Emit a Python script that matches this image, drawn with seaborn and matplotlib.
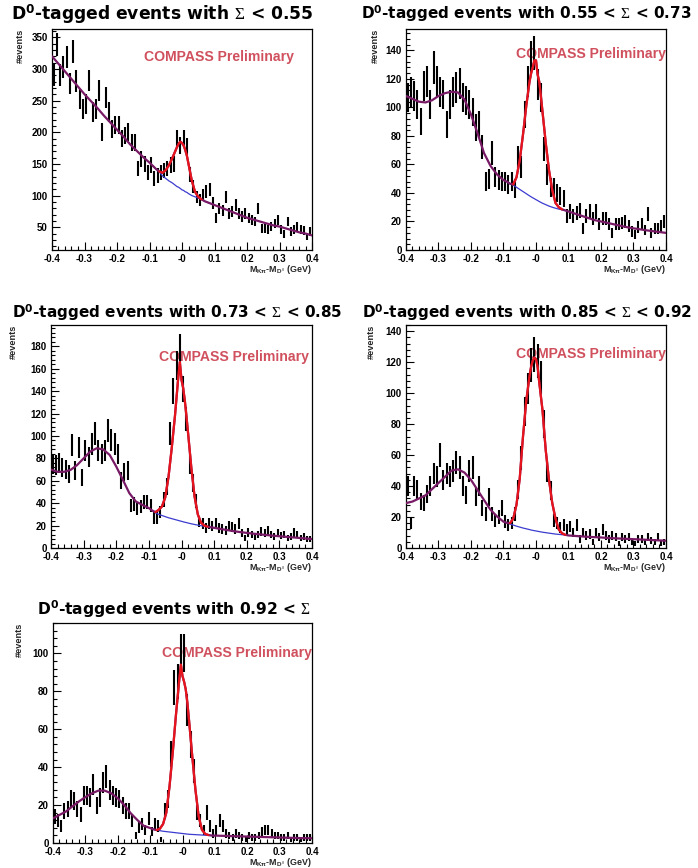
import numpy as np
import matplotlib
matplotlib.use("Agg")
import matplotlib.pyplot as plt
import seaborn as sns
from matplotlib.ticker import FixedLocator, MultipleLocator

# --------------------------------------------------------------
# data (80 bins of 0.01 GeV)
# --------------------------------------------------------------
BIN_X = np.round(np.arange(80) * 0.01 - 0.395, 3)

counts_1 = [290, 338, 290, 303, 319, 277, 327, 281, 253, 237,
            245, 282, 232, 237, 266, 200, 255, 232, 205, 211,
            211, 190, 195, 200, 184, 184, 142, 158, 150, 137,
            148, 127, 132, 137, 140, 142, 148, 150, 190, 179,
            190, 177, 133, 114, 98, 93, 101, 106, 109, 88,
            64, 80, 77, 98, 72, 75, 85, 72, 67, 72,
            64, 61, 59, 80, 48, 48, 46, 51, 56, 61,
            46, 40, 59, 43, 46, 51, 46, 45, 35, 43]

counts_2 = [107, 111, 108, 102, 90, 115, 118, 102, 128, 118,
            111, 109, 88, 102, 111, 114, 117, 107, 105, 102,
            97, 86, 88, 72, 48, 50, 68, 51, 49, 48,
            48, 46, 48, 43, 65, 58, 95, 118, 135, 138,
            116, 107, 71, 53, 44, 44, 40, 38, 36, 24,
            27, 24, 26, 28, 15, 24, 27, 22, 27, 18,
            22, 22, 18, 12, 18, 18, 19, 20, 17, 13,
            11, 16, 18, 14, 25, 12, 15, 15, 17, 20]

counts_3 = [75, 74, 76, 72, 70, 66, 92, 69, 90, 63,
            87, 81, 93, 102, 87, 84, 87, 105, 96, 93,
            84, 60, 68, 69, 38, 39, 35, 37, 41, 41,
            38, 27, 27, 32, 43, 55, 102, 140, 163, 178,
            142, 115, 75, 58, 42, 24, 22, 18, 22, 20,
            22, 18, 17, 16, 20, 19, 17, 22, 13, 9,
            14, 12, 10, 12, 15, 13, 16, 12, 10, 13,
            11, 12, 9, 10, 14, 12, 9, 10, 8, 8]

counts_4 = [40, 16, 40, 38, 30, 29, 35, 40, 48, 46,
            60, 44, 48, 46, 50, 55, 52, 40, 34, 50,
            52, 33, 40, 26, 22, 33, 22, 18, 20, 26,
            17, 15, 16, 22, 38, 58, 88, 103, 118, 125,
            121, 110, 80, 50, 37, 18, 16, 13, 15, 12,
            14, 10, 15, 6, 10, 8, 9, 4, 10, 7,
            12, 8, 6, 8, 7, 3, 7, 6, 7, 4,
            3, 6, 6, 4, 7, 5, 4, 7, 3, 4]

counts_5 = [14, 12, 9, 17, 18, 23, 22, 18, 15, 25,
            25, 24, 31, 20, 24, 32, 35, 28, 25, 24,
            23, 20, 17, 17, 12, 4, 8, 10, 7, 13,
            6, 10, 9, 2, 17, 23, 47, 82, 85, 100,
            100, 70, 52, 38, 16, 12, 7, 16, 9, 5,
            7, 12, 9, 5, 4, 3, 5, 4, 3, 2,
            4, 3, 3, 4, 6, 7, 7, 5, 4, 4,
            3, 3, 4, 2, 3, 3, 2, 3, 3, 3]

# fit curves, sampled at CURVE_X
CURVE_X = [-0.40, -0.38, -0.36, -0.34, -0.32, -0.30, -0.28, -0.26,
           -0.24, -0.22, -0.20, -0.18, -0.16, -0.14, -0.12, -0.10,
           -0.09, -0.08, -0.07, -0.06, -0.05, -0.04, -0.03, -0.02,
           -0.015, -0.01, -0.005, 0.0, 0.005, 0.01, 0.015, 0.02,
           0.03, 0.04, 0.05, 0.06, 0.07, 0.08, 0.09, 0.10,
           0.12, 0.14, 0.16, 0.18, 0.20, 0.22, 0.24, 0.26,
           0.28, 0.30, 0.32, 0.34, 0.36, 0.38, 0.40]
PEAK_LO, PEAK_HI = 16, 40  # background below is given on CURVE_X[16:40]

total_1 = [320, 308, 296, 284, 272, 260, 249, 238, 226, 215, 204, 193, 181, 171, 161, 152,
           147, 142, 138, 136, 140, 148, 159, 171, 177, 182, 185, 183, 179, 172, 163, 150,
           124, 106, 98, 94, 91, 89, 87, 85,
           81, 77, 73, 69, 65, 62, 59, 56, 53, 51, 48, 45, 42, 40, 37]
bkg_1 = [147, 142, 137.5, 131, 127, 123, 120, 116, 114, 113, 111, 109, 108, 106, 105, 103,
         100, 98, 96, 94, 91, 89, 87, 85]

total_2 = [108, 106, 104, 103.5, 105, 108, 110, 111, 110.5, 105.5, 95, 82, 68, 59, 53, 49,
           48, 46.5, 46, 51, 63, 81, 101, 118, 124, 128, 133, 133, 123, 118, 108, 97,
           75, 56, 42, 33, 30, 28.5, 27.8, 27,
           25.5, 24, 22.5, 21, 20, 19, 18, 17, 16, 15.2, 14.5, 13.8, 13.2, 12.6, 12]
bkg_2 = [48, 46.5, 45.5, 44, 42.5, 41, 39.5, 38, 37.3, 36.6, 36, 35.3, 34.7, 34, 33.4, 32.8,
         31.8, 30.8, 30, 29.3, 28.7, 28.2, 27.6, 27]

total_3 = [70, 68, 68, 69.7, 74, 80, 86, 89, 88, 83, 72.7, 61, 49, 41.5, 38.5, 35.6,
           33.5, 32, 34, 37, 45, 63, 89, 118, 135, 152, 166, 150, 143, 132, 118, 103,
           72, 46, 30, 22.5, 20, 19, 18.5, 18,
           17, 16, 15, 14.2, 13.5, 12.8, 12.2, 11.6, 11, 10.5, 10, 9.5, 9, 8.5, 8]
bkg_3 = [33.5, 31.5, 30, 29, 28, 27, 26.2, 25.4, 25, 24.6, 24.2, 23.8, 23.4, 23, 22.7, 22.3,
         21.6, 21, 20.4, 19.9, 19.4, 19, 18.5, 18]

total_4 = [29, 30, 32, 34, 38, 42, 46, 50, 50.8, 48.7, 44, 37.5, 31, 24.7, 20.4, 17,
           16.3, 16, 19, 28, 45, 72, 95, 111, 117, 121, 123, 122, 117, 107, 98, 89,
           63, 44, 29, 19, 12, 9.5, 8.5, 8.1,
           7.8, 7.5, 7.2, 7, 6.8, 6.5, 6.3, 6.1, 5.9, 5.7, 5.5, 5.3, 5.1, 4.9, 4.7]
bkg_4 = [16.3, 15.5, 14.8, 14.1, 13.5, 12.9, 12.4, 11.9, 11.6, 11.4, 11.2, 11.0, 10.8, 10.6, 10.4, 10.2,
         9.9, 9.6, 9.3, 9.0, 8.8, 8.6, 8.4, 8.1]

total_5 = [13, 14.8, 16.6, 19.3, 21.9, 24.2, 26.2, 27.6, 27.6, 26.2, 23.6, 20, 15.7, 12.2, 9.1, 7.9,
           7.2, 6.8, 7.5, 10, 16, 30, 48, 68, 77, 86, 94, 88, 85, 81, 74, 65,
           46, 28, 14, 7, 4.8, 4.2, 3.95, 3.9,
           3.8, 3.7, 3.6, 3.5, 3.4, 3.3, 3.2, 3.1, 3.0, 2.9, 2.8, 2.7, 2.6, 2.55, 2.5]
bkg_5 = [7.2, 6.8, 6.5, 6.2, 6.0, 5.8, 5.6, 5.4, 5.3, 5.2, 5.1, 5.0, 4.9, 4.8, 4.7, 4.6,
         4.5, 4.4, 4.3, 4.2, 4.1, 4.0, 3.95, 3.9]

TITLES = [r"D$^{\mathbf{0}}$-tagged events with $\Sigma$ < 0.55",
          r"D$^{\mathbf{0}}$-tagged events with 0.55 < $\Sigma$ < 0.73",
          r"D$^{\mathbf{0}}$-tagged events with 0.73 < $\Sigma$ < 0.85",
          r"D$^{\mathbf{0}}$-tagged events with 0.85 < $\Sigma$ < 0.92",
          r"D$^{\mathbf{0}}$-tagged events with 0.92 < $\Sigma$"]
XTICKS = [-0.4, -0.3, -0.2, -0.1, 0.0, 0.1, 0.2, 0.3, 0.4]
XTICK_LABELS = ["-0.4", "-0.3", "-0.2", "-0.1", "-0", "0.1", "0.2", "0.3", "0.4"]
YTICKS = [[50, 100, 150, 200, 250, 300, 350],
          [0, 20, 40, 60, 80, 100, 120, 140],
          [0, 20, 40, 60, 80, 100, 120, 140, 160, 180],
          [0, 20, 40, 60, 80, 100, 120, 140],
          [0, 20, 40, 60, 80, 100]]
YLIMS = [(14, 363), (0, 155), (0, 199), (0, 144), (0, 116)]

COUNTS = [counts_1, counts_2, counts_3, counts_4, counts_5]
TOTALS = [total_1, total_2, total_3, total_4, total_5]
BKGS = [bkg_1, bkg_2, bkg_3, bkg_4, bkg_5]

# layout in pixels: axes box (left, top, right, bottom), title (x, baseline, size),
# ylabel x, COMPASS label (x, baseline), minor y step
LAYOUT = [
    dict(box=(52, 29, 312, 250), title=(11, 20, 12.3), ylab=20.5, tag=(144, 61), minor=10),
    dict(box=(406, 29, 666, 250), title=(361, 19.5, 11.0), ylab=375, tag=(516, 58), minor=4),
    dict(box=(51, 325, 312, 548), title=(12, 318, 11.0), ylab=13.5, tag=(159, 361.5), minor=4),
    dict(box=(406, 325, 666, 548), title=(362, 318, 11.0), ylab=371.5, tag=(516, 358), minor=4),
    dict(box=(53, 623, 312, 843), title=(37, 615, 11.2), ylab=19.5, tag=(162, 656.5), minor=4),
]

RED = "#e8141c"
PURPLE = "#781a66"
BLUE = "#3c3cd0"
TAG = "#d0505e"

sns.set_theme(style="ticks")
plt.rcParams["font.family"] = ["Liberation Sans", "DejaVu Sans"]
plt.rcParams["mathtext.fontset"] = "custom"
plt.rcParams["mathtext.rm"] = "Liberation Serif"
plt.rcParams["mathtext.it"] = "Liberation Sans:bold"
plt.rcParams["mathtext.bf"] = "DejaVu Sans:bold"

W, H = 698, 868
fig = plt.figure(figsize=(W / 100, H / 100), dpi=100)
fig.patch.set_facecolor("white")


def fx(px):
    return px / W


def fy(py):
    return 1 - py / H


for k in range(5):
    lay = LAYOUT[k]
    l, t, r, b = lay["box"]
    ax = fig.add_axes([fx(l), fy(b), (r - l) / W, (b - t) / H])
    ax.set_facecolor("white")

    counts = np.array(COUNTS[k], dtype=float)
    ax.errorbar(BIN_X, counts, yerr=np.sqrt(counts), xerr=0.003, fmt="none",
                ecolor="black", elinewidth=1.5, capsize=0, zorder=3)

    cx = np.array(CURVE_X)
    tot = np.array(TOTALS[k], dtype=float)
    bkg = np.array(BKGS[k], dtype=float)
    px = cx[PEAK_LO:PEAK_HI]

    # background under the peak, then full fit, then the signal part in red
    sns.lineplot(x=px, y=bkg, color=BLUE, lw=0.9, ax=ax, sort=False,
                 estimator=None, zorder=4)
    sns.lineplot(x=cx, y=tot, color=PURPLE, lw=1.6, ax=ax, sort=False,
                 estimator=None, zorder=5)
    sig = np.where(tot[PEAK_LO:PEAK_HI] - bkg > 0.5)[0]
    i0 = PEAK_LO + max(sig[0] - 1, 0)
    i1 = PEAK_LO + min(sig[-1] + 1, PEAK_HI - PEAK_LO - 1)
    sns.lineplot(x=cx[i0:i1 + 1], y=tot[i0:i1 + 1], color=RED, lw=1.6, ax=ax,
                 sort=False, estimator=None, zorder=6)

    ax.set_xlim(-0.4, 0.4)
    ax.set_ylim(*YLIMS[k])
    ax.xaxis.set_major_locator(FixedLocator(XTICKS))
    ax.set_xticklabels(XTICK_LABELS)
    ax.xaxis.set_minor_locator(MultipleLocator(0.02))
    ax.yaxis.set_major_locator(FixedLocator(YTICKS[k]))
    ax.yaxis.set_minor_locator(MultipleLocator(lay["minor"]))
    ax.tick_params(which="both", direction="in", top=False, right=False,
                   labelsize=7, colors="black")
    ax.tick_params(axis="x", pad=3)
    ax.tick_params(axis="y", pad=3)
    ax.tick_params(which="major", length=6, width=0.8)
    ax.tick_params(which="minor", length=3, width=0.8)
    for lab in ax.get_xticklabels() + ax.get_yticklabels():
        lab.set_fontweight("bold")
    for sp in ax.spines.values():
        sp.set_visible(True)
        sp.set_color("black")
        sp.set_linewidth(0.9)
    ax.set_xlabel("")
    ax.set_ylabel("")

    tx, ty, ts = lay["title"]
    fig.text(fx(tx), fy(ty), TITLES[k], ha="left", va="baseline",
             fontsize=ts, fontweight="bold", color="black",
             family=["DejaVu Sans"])
    fig.text(fx(lay["ylab"]), fy(t), "#events", rotation=90, ha="center",
             va="top", fontsize=6.6, fontweight="bold")
    fig.text(fx(r), fy(b + 19.5), r"M$_{K\pi}$-M$_{D^0}$ (GeV)", ha="right",
             va="center", fontsize=6.4, fontweight="bold")
    ax.text(fx(lay["tag"][0]), fy(lay["tag"][1]), "COMPASS Preliminary",
            transform=fig.transFigure, ha="left", va="baseline",
            fontsize=10.1, fontweight="bold", color=TAG, zorder=1)

fig.savefig("out.png", dpi=100, facecolor="white")
